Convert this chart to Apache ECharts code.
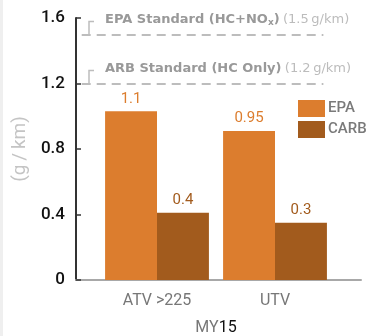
<!DOCTYPE html>
<html>
<head>
<meta charset="utf-8">
<script src="https://cdn.jsdelivr.net/npm/echarts@6/dist/echarts.min.js"></script>
<style>
html,body{margin:0;padding:0;background:#fff;}
#c{width:367px;height:336px;}
</style>
</head>
<body>
<div id="c"></div>
<script>
// ---- data ----
const categories = ['ATV >225', 'UTV'];
const seriesNames = ['EPA', 'CARB'];
const epaValues = [1.03, 0.91];
const carbValues = [0.41, 0.35];
const epaLabels = ['1.1', '0.95'];
const carbLabels = ['0.4', '0.3'];
const standardValues = [1.5, 1.2];
const standardNames = ['EPA Standard (HC+NO', 'ARB Standard (HC Only)'];
const standardSubs = ['x', ''];
const standardNotes = ['(1.5\u2009g/km)', '(1.2\u2009g/km)'];
const yMin = 0, yMax = 1.6, yInterval = 0.4;

const EPA_C = '#DC7D2E';
const CARB_C = '#A25B1D';
const FONT = 'Roboto, "Liberation Sans", sans-serif';
const WFONT = '"DejaVu Sans", sans-serif';

const chart = echarts.init(document.getElementById('c'), null, {renderer: 'canvas'});

const option = {
  backgroundColor: '#fff',
  animation: false,
  textStyle: {fontFamily: FONT},
  grid: [
    {left: 76, right: 6, top: 18, bottom: 56, containLabel: false, outerBoundsMode: 'none'},
    {left: 98, right: 33, top: 18, bottom: 56, containLabel: false, outerBoundsMode: 'none'}
  ],
  legend: {
    orient: 'vertical', left: 293, top: 95, itemWidth: 27, itemHeight: 17, itemGap: 4,
    icon: 'rect', data: seriesNames,
    textStyle: {color: '#7a7a7a', fontSize: 15, fontWeight: 500, fontFamily: FONT, padding: [0,0,0,-2]}
  },
  xAxis: [
    {gridIndex: 0, type: 'value', min: 0, max: 1, show: true,
     axisLine: {show: true, onZero: false, lineStyle: {color: '#a8a8a8', width: 2}},
     axisTick: {show: false}, axisLabel: {show: false}, splitLine: {show: false}},
    {gridIndex: 1, type: 'category', data: categories,
     axisLine: {show: false}, axisTick: {show: false},
     axisLabel: {color: '#777', fontSize: 16, margin: 13, fontFamily: FONT},
     name: '{a|MY}{b|15}', nameLocation: 'middle', nameGap: 40,
     nameTextStyle: {rich: {a: {color: '#777', fontSize: 16, fontFamily: FONT}, b: {color: '#111', fontSize: 16, fontFamily: FONT}}}}
  ],
  yAxis: [
    {gridIndex: 0, type: 'value', min: yMin, max: yMax, interval: yInterval,
     axisLine: {show: true, lineStyle: {color: '#333', width: 2}},
     axisTick: {show: true, inside: true, length: 5, lineStyle: {color: '#333', width: 1.5}},
     axisLabel: {color: '#111', fontSize: 17, fontWeight: 500, margin: 11, fontFamily: FONT},
     splitLine: {show: false},
     name: '(g\u2009/\u2009km)', nameLocation: 'middle', nameGap: 36, nameRotate: 90,
     nameTextStyle: {color: '#c4c4c4', fontSize: 19, fontFamily: FONT}},
    {gridIndex: 1, type: 'value', min: yMin, max: yMax, interval: yInterval, show: false}
  ],
  series: [
    {name: 'standards', type: 'line', xAxisIndex: 0, yAxisIndex: 0, data: [], silent: true,
     markLine: {silent: true, symbol: 'none', label: {show: false},
       lineStyle: {color: '#bdbdbd', width: 2, type: [9, 6]},
       data: standardValues.map(v => [{xAxis: 0.02, yAxis: v}, {xAxis: 0.868, yAxis: v}])}},
    {name: seriesNames[0], type: 'bar', xAxisIndex: 1, yAxisIndex: 1, data: epaValues,
     barGap: '0%', barCategoryGap: '12%', itemStyle: {color: EPA_C},
     label: {show: true, position: 'top', distance: 5, color: EPA_C, fontSize: 15, fontFamily: FONT,
       formatter: p => epaLabels[p.dataIndex]}},
    {name: seriesNames[1], type: 'bar', xAxisIndex: 1, yAxisIndex: 1, data: carbValues,
     itemStyle: {color: CARB_C},
     label: {show: true, position: 'top', distance: 5, color: CARB_C, fontSize: 15, fontFamily: FONT,
       formatter: p => carbLabels[p.dataIndex]}}
  ]
};
chart.setOption(option);

// annotation brackets and texts, positioned from the axis scale
const g = [{type: 'rect', shape: {x: 0, y: 0, width: 3, height: 336}, style: {fill: '#efefef'}}];
standardValues.forEach((v, i) => {
  const p = chart.convertToPixel({xAxisIndex: 0, yAxisIndex: 0}, [0, v]);
  const y = p[1];
  g.push({type: 'polyline', shape: {points: [[89, y], [89, y - 13], [94, y - 13]]},
          style: {stroke: '#bdbdbd', lineWidth: 1.5, fill: null}});
  const sub = standardSubs[i] ? '{s|' + standardSubs[i] + '}{b|)}' : '';
  g.push({type: 'text', x: 105, y: y - 15,
    style: {text: '{b|' + standardNames[i] + '}' + sub + ' {n|' + standardNotes[i] + '}',
      verticalAlign: 'middle',
      rich: {
        b: {fill: '#999', fontSize: 13, fontWeight: 'bold', fontFamily: WFONT},
        s: {fill: '#999', fontSize: 9, fontWeight: 'bold', fontFamily: WFONT, padding: [7, 0, 0, 0]},
        n: {fill: '#bcbcbc', fontSize: 13, fontFamily: WFONT}
      }}});
});
chart.setOption({graphic: g});
</script>
</body>
</html>
